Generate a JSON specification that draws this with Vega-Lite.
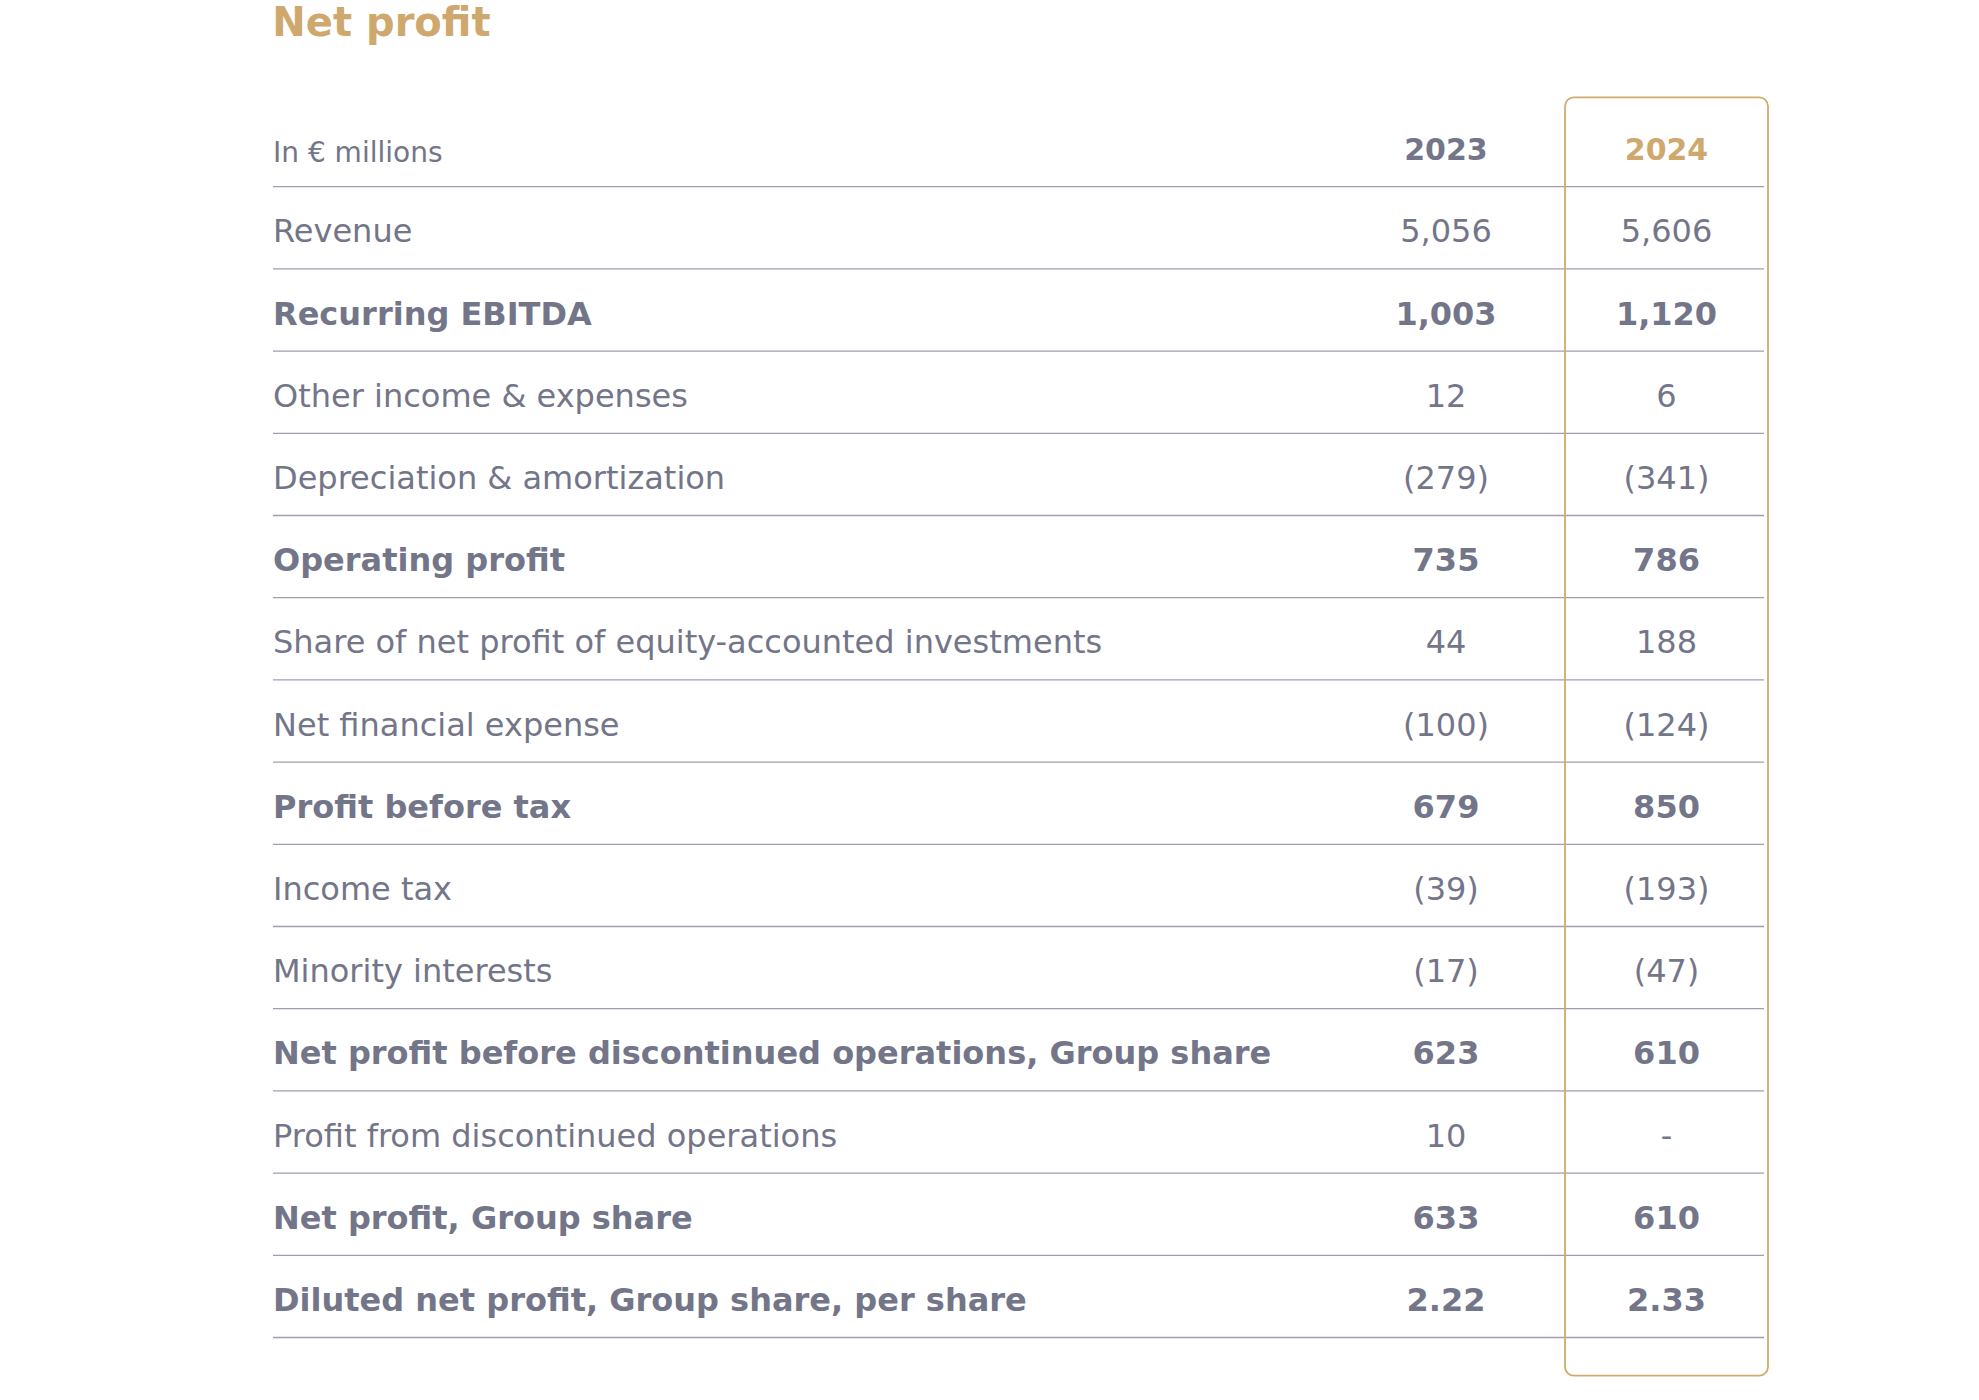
{
  "$schema": "https://vega.github.io/schema/vega-lite/v6.json",
  "width": 1491,
  "height": 1278.4,
  "autosize": {"type": "none"},
  "padding": {"left": 273, "top": 97.3, "right": 215, "bottom": 24.3},
  "background": "white",
  "title": {
    "text": "Net profit",
    "anchor": "start",
    "font": "DejaVu Sans",
    "fontSize": 40,
    "fontWeight": "bold",
    "color": "#CFA86E",
    "offset": 52
  },
  "config": {"view": {"stroke": null}, "font": "DejaVu Sans"},
  "data": {
    "values": [
      {"label": "In € millions", "year": "2023", "value": "2023", "kind": "header"},
      {"label": "In € millions", "year": "2024", "value": "2024", "kind": "header"},
      {"label": "Revenue", "year": "2023", "value": "5,056", "kind": "item"},
      {"label": "Revenue", "year": "2024", "value": "5,606", "kind": "item"},
      {"label": "Recurring EBITDA", "year": "2023", "value": "1,003", "kind": "total"},
      {"label": "Recurring EBITDA", "year": "2024", "value": "1,120", "kind": "total"},
      {"label": "Other income & expenses", "year": "2023", "value": "12", "kind": "item"},
      {"label": "Other income & expenses", "year": "2024", "value": "6", "kind": "item"},
      {"label": "Depreciation & amortization", "year": "2023", "value": "(279)", "kind": "item"},
      {"label": "Depreciation & amortization", "year": "2024", "value": "(341)", "kind": "item"},
      {"label": "Operating profit", "year": "2023", "value": "735", "kind": "total"},
      {"label": "Operating profit", "year": "2024", "value": "786", "kind": "total"},
      {"label": "Share of net profit of equity-accounted investments", "year": "2023", "value": "44", "kind": "item"},
      {"label": "Share of net profit of equity-accounted investments", "year": "2024", "value": "188", "kind": "item"},
      {"label": "Net financial expense", "year": "2023", "value": "(100)", "kind": "item"},
      {"label": "Net financial expense", "year": "2024", "value": "(124)", "kind": "item"},
      {"label": "Profit before tax", "year": "2023", "value": "679", "kind": "total"},
      {"label": "Profit before tax", "year": "2024", "value": "850", "kind": "total"},
      {"label": "Income tax", "year": "2023", "value": "(39)", "kind": "item"},
      {"label": "Income tax", "year": "2024", "value": "(193)", "kind": "item"},
      {"label": "Minority interests", "year": "2023", "value": "(17)", "kind": "item"},
      {"label": "Minority interests", "year": "2024", "value": "(47)", "kind": "item"},
      {"label": "Net profit before discontinued operations, Group share", "year": "2023", "value": "623", "kind": "total"},
      {"label": "Net profit before discontinued operations, Group share", "year": "2024", "value": "610", "kind": "total"},
      {"label": "Profit from discontinued operations", "year": "2023", "value": "10", "kind": "item"},
      {"label": "Profit from discontinued operations", "year": "2024", "value": "-", "kind": "item"},
      {"label": "Net profit, Group share", "year": "2023", "value": "633", "kind": "total"},
      {"label": "Net profit, Group share", "year": "2024", "value": "610", "kind": "total"},
      {"label": "Diluted net profit, Group share, per share", "year": "2023", "value": "2.22", "kind": "total"},
      {"label": "Diluted net profit, Group share, per share", "year": "2024", "value": "2.33", "kind": "total"}
    ]
  },
  "layer": [
    {
      "transform": [{"filter": "datum.year == '2023'"}],
      "mark": {"type": "rule", "color": "#9E9EB0", "strokeWidth": 1.3, "yOffset": 41.1},
      "encoding": {
        "y": {
          "field": "label",
          "type": "nominal",
          "scale": {
            "type": "band",
            "domain": [
              "In € millions",
              "Revenue",
              "Recurring EBITDA",
              "Other income & expenses",
              "Depreciation & amortization",
              "Operating profit",
              "Share of net profit of equity-accounted investments",
              "Net financial expense",
              "Profit before tax",
              "Income tax",
              "Minority interests",
              "Net profit before discontinued operations, Group share",
              "Profit from discontinued operations",
              "Net profit, Group share",
              "Diluted net profit, Group share, per share"
            ],
            "range": [7.2, 1240.2],
            "paddingInner": 0,
            "paddingOuter": 0
          },
          "axis": null
        }
      }
    },
    {
      "transform": [{"filter": "datum.kind == 'header' && datum.year == '2024'"}],
      "mark": {"type": "rect", "fillOpacity": 0, "stroke": "#D2AA6E", "strokeWidth": 1.8, "cornerRadius": 9},
      "encoding": {
        "x": {
          "field": "year",
          "type": "nominal",
          "scale": {"type": "band", "domain": ["2023", "2024"], "range": [1071.5, 1495], "paddingInner": 0.0794, "paddingOuter": 0},
          "axis": null
        }
      }
    },
    {
      "transform": [{"filter": "datum.kind == 'header' && datum.year == '2023'"}],
      "mark": {"type": "text", "fontSize": 28, "fontWeight": "normal", "color": "#737589", "align": "left", "baseline": "alphabetic", "dy": 16.5, "font": "DejaVu Sans"},
      "encoding": {
        "x": {"value": 0},
        "y": {"field": "label", "type": "nominal"},
        "text": {"field": "label"}
      }
    },
    {
      "transform": [{"filter": "datum.kind == 'item' && datum.year == '2023'"}],
      "mark": {"type": "text", "fontSize": 32, "fontWeight": "normal", "color": "#737589", "align": "left", "baseline": "alphabetic", "dy": 14.5, "font": "DejaVu Sans"},
      "encoding": {
        "x": {"value": 0},
        "y": {"field": "label", "type": "nominal"},
        "text": {"field": "label"}
      }
    },
    {
      "transform": [{"filter": "datum.kind == 'total' && datum.year == '2023'"}],
      "mark": {"type": "text", "fontSize": 32, "fontWeight": "bold", "color": "#737589", "align": "left", "baseline": "alphabetic", "dy": 14.5, "font": "DejaVu Sans"},
      "encoding": {
        "x": {"value": 0},
        "y": {"field": "label", "type": "nominal"},
        "text": {"field": "label"}
      }
    },
    {
      "transform": [{"filter": "datum.kind == 'item'"}],
      "mark": {"type": "text", "fontSize": 32, "fontWeight": "normal", "color": "#737589", "align": "center", "baseline": "alphabetic", "dy": 14.5, "font": "DejaVu Sans"},
      "encoding": {
        "x": {"field": "year", "type": "nominal"},
        "y": {"field": "label", "type": "nominal"},
        "text": {"field": "value"}
      }
    },
    {
      "transform": [{"filter": "datum.kind == 'total'"}],
      "mark": {"type": "text", "fontSize": 32, "fontWeight": "bold", "color": "#737589", "align": "center", "baseline": "alphabetic", "dy": 14.5, "font": "DejaVu Sans"},
      "encoding": {
        "x": {"field": "year", "type": "nominal"},
        "y": {"field": "label", "type": "nominal"},
        "text": {"field": "value"}
      }
    },
    {
      "transform": [{"filter": "datum.kind == 'header'"}],
      "mark": {"type": "text", "fontSize": 30, "fontWeight": "bold", "align": "center", "baseline": "alphabetic", "dy": 14.5, "font": "DejaVu Sans"},
      "encoding": {
        "x": {"field": "year", "type": "nominal"},
        "y": {"field": "label", "type": "nominal"},
        "text": {"field": "value"},
        "color": {"condition": {"test": "datum.year == '2024'", "value": "#CFA86E"}, "value": "#737589"}
      }
    }
  ]
}
